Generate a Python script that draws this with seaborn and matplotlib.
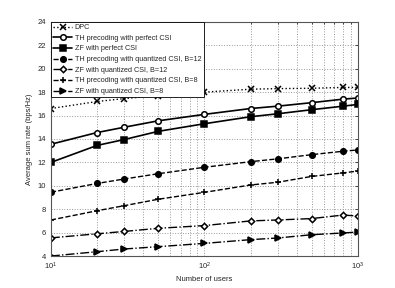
import matplotlib
matplotlib.use("Agg")
import matplotlib.pyplot as plt
import seaborn as sns
import numpy as np
from matplotlib.ticker import LogLocator, NullFormatter, MultipleLocator

users = [10, 20, 30, 50, 100, 200, 300, 500, 800, 1000]
dpc = [16.6, 17.2, 17.45, 17.7, 18.0, 18.25, 18.3, 18.33, 18.4, 18.4]
th_perfect = [13.55, 14.55, 15.0, 15.55, 16.1, 16.6, 16.8, 17.1, 17.4, 17.5]
zf_perfect = [12.0, 13.45, 13.95, 14.65, 15.3, 15.9, 16.15, 16.5, 16.8, 16.95]
th_b12 = [9.45, 10.2, 10.58, 11.03, 11.58, 12.06, 12.3, 12.66, 12.95, 13.06]
zf_b12 = [5.55, 5.9, 6.1, 6.37, 6.6, 7.0, 7.08, 7.2, 7.5, 7.42]
th_b8 = [7.08, 7.87, 8.3, 8.85, 9.44, 10.07, 10.3, 10.8, 11.1, 11.26]
zf_b8 = [4.0, 4.37, 4.6, 4.8, 5.08, 5.4, 5.54, 5.82, 5.97, 6.05]

series = [
    ("DPC", dpc, "x", ":", "black"),
    ("TH precoding with perfect CSI", th_perfect, "o", "-", "white"),
    ("ZF with perfect CSI", zf_perfect, "s", "-", "black"),
    ("TH precoding with quantized CSI, B=12", th_b12, "o", "--", "black"),
    ("ZF with quantized CSI, B=12", zf_b12, "D", "-.", "white"),
    ("TH precoding with quantized CSI, B=8", th_b8, "+", "--", "black"),
    ("ZF with quantized CSI, B=8", zf_b8, ">", "-.", "black"),
]

sns.set_style("white")
plt.rcParams['font.family'] = ['Liberation Sans', 'DejaVu Sans']

fig = plt.figure(figsize=(3.95, 2.88), dpi=100)
ax = fig.add_axes([0.129, 0.111, 0.777, 0.813])

for name, vals, mk, ls, fc in series:
    ms = 4.0 if mk != "D" else 3.2
    sns.lineplot(x=users, y=vals, ax=ax, color="black", linestyle=ls,
                 linewidth=1.2 if ls == "-" else 1.0, marker=mk, markersize=ms,
                 markerfacecolor=fc, markeredgecolor="black", markeredgewidth=1.1,
                 label=name)

ax.set_xscale("log")
ax.set_xlim(10, 1000)
ax.set_ylim(4, 24)
ax.yaxis.set_major_locator(MultipleLocator(2))
ax.xaxis.set_major_locator(LogLocator(base=10))
ax.xaxis.set_minor_locator(LogLocator(base=10, subs=np.arange(2, 10)))
ax.xaxis.set_minor_formatter(NullFormatter())
ax.grid(True, which="major", linestyle=":", color="#999999", linewidth=0.7)
ax.grid(True, which="minor", axis="x", linestyle=":", color="#999999", linewidth=0.7)
ax.tick_params(axis="both", which="both", direction="in", labelsize=5.5,
               top=True, right=True, length=2.5, width=0.6)
ax.tick_params(axis="x", which="minor", length=1.5)
for sp in ax.spines.values():
    sp.set_color("#555555")
    sp.set_linewidth(0.8)
ax.set_xlabel("Number of users", fontsize=5.5, labelpad=3)
ax.set_ylabel("Average sum rate (bps/Hz)", fontsize=5.5, labelpad=3)

leg = ax.legend(loc="upper left", fontsize=5.2, frameon=True, fancybox=False,
                edgecolor="black", framealpha=1, borderpad=0.3, labelspacing=0.5,
                handlelength=2.6, handletextpad=0.4, borderaxespad=0.0)
leg.get_frame().set_linewidth(0.6)

fig.savefig("out.png", dpi=100)
